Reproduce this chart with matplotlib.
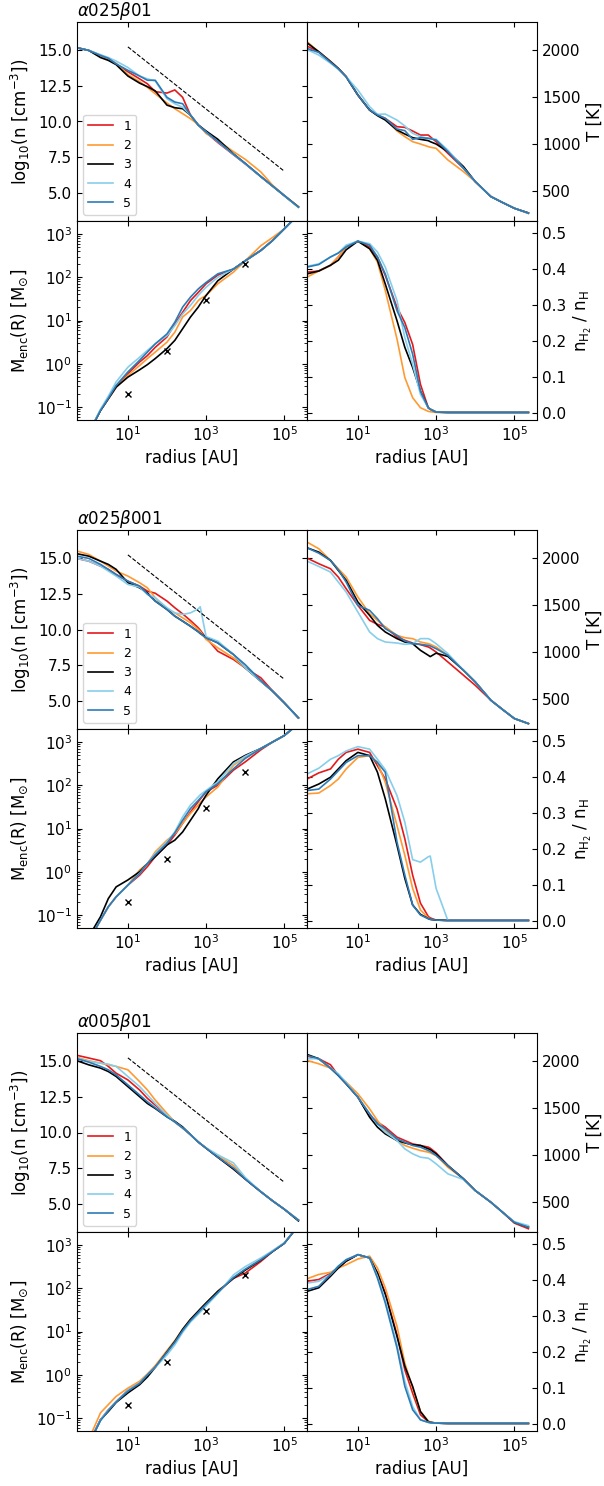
import numpy as np
import matplotlib
matplotlib.use("Agg")
import matplotlib.pyplot as plt

# radius grid (log10 AU), shared by every curve
logr = np.array([-0.3, 0.0, 0.3, 0.5, 0.7, 1.0, 1.3, 1.5, 1.7, 2.0, 2.2, 2.4,
                 2.6, 2.8, 2.85, 3.0, 3.3, 3.7, 4.0, 4.4, 4.7, 5.0, 5.36])
radius = 10 ** logr

labels = ["1", "2", "3", "4", "5"]
colors = ["#e41a1c", "#ff9a33", "k", "#87ceeb", "#2c7bb6"]
titles = [r"$\alpha025\beta01$", r"$\alpha025\beta001$", r"$\alpha005\beta01$"]

# reference slope line and reference masses
slope_r = [10, 1e5]
slope_n = [15.25, 6.5]
ref_r = [10, 100, 1000, 1e4]
ref_m = [0.2, 2, 30, 200]

# ---- alpha025 beta01 ----
n_a = [
    [15.19, 15.0, 14.65, 14.4, 14.05, 13.5, 13.0, 12.65, 12.1, 12.0, 12.22, 11.7, 10.45, 9.75, 9.62, 9.22, 8.52, 7.66, 7.02, 6.12, 5.46, 4.78, 4.0],
    [15.19, 15.0, 14.65, 14.4, 14.1, 13.3, 12.8, 12.4, 11.95, 11.3, 10.9, 10.55, 10.2, 9.78, 9.65, 9.15, 8.66, 7.88, 7.34, 6.45, 5.52, 4.8, 4.02],
    [15.19, 15.0, 14.5, 14.3, 14.0, 13.2, 12.7, 12.45, 12.15, 11.15, 10.97, 10.9, 10.45, 9.75, 9.65, 9.33, 8.75, 7.72, 7.05, 6.12, 5.45, 4.78, 3.98],
    [15.19, 15.0, 14.7, 14.5, 14.25, 13.8, 13.2, 13.0, 12.85, 11.6, 11.25, 11.0, 10.45, 9.75, 9.62, 9.25, 8.58, 7.68, 7.03, 6.12, 5.45, 4.78, 3.95],
    [15.19, 15.0, 14.65, 14.45, 14.05, 13.6, 13.2, 12.9, 12.9, 11.7, 11.37, 11.25, 10.45, 9.75, 9.62, 9.25, 8.6, 7.7, 7.05, 6.13, 5.46, 4.79, 3.98],
]
T_a = [
    [2043, 1982, 1880, 1804, 1716, 1520, 1360, 1307, 1271, 1182, 1175, 1136, 1093, 1093, 1075, 1022, 898, 738, 596, 436, 372, 311, 258],
    [2089, 1982, 1876, 1804, 1716, 1520, 1360, 1307, 1265, 1136, 1076, 1022, 997, 969, 963, 951, 827, 702, 596, 436, 372, 311, 258],
    [2078, 1982, 1876, 1804, 1716, 1520, 1360, 1300, 1253, 1147, 1104, 1065, 1047, 1033, 1022, 997, 916, 756, 596, 436, 372, 311, 262],
    [2007, 1947, 1860, 1795, 1716, 1573, 1396, 1314, 1317, 1253, 1190, 1111, 1076, 1058, 1055, 1047, 933, 738, 596, 436, 372, 311, 258],
    [2018, 1975, 1870, 1800, 1716, 1520, 1360, 1307, 1271, 1157, 1140, 1047, 1065, 1058, 1054, 1040, 916, 738, 596, 436, 372, 311, 258],
]
logM_a = [
    [-2.6, -1.6, -1.08, -0.81, -0.54, -0.23, 0.04, 0.19, 0.38, 0.62, 0.92, 1.19, 1.46, 1.65, 1.7, 1.85, 2.05, 2.19, 2.38, 2.62, 2.85, 3.12, 3.45],
    [-2.6, -1.6, -1.08, -0.81, -0.54, -0.27, -0.04, 0.12, 0.27, 0.5, 0.73, 1.08, 1.23, 1.46, 1.5, 1.58, 1.85, 2.12, 2.38, 2.73, 2.92, 3.12, 3.45],
    [-2.6, -1.6, -1.08, -0.81, -0.54, -0.31, -0.14, -0.02, 0.12, 0.35, 0.54, 0.81, 1.08, 1.31, 1.38, 1.58, 1.92, 2.19, 2.38, 2.62, 2.85, 3.12, 3.45],
    [-2.6, -1.6, -1.05, -0.75, -0.42, -0.08, 0.15, 0.31, 0.46, 0.65, 0.88, 1.15, 1.35, 1.58, 1.63, 1.77, 2.0, 2.19, 2.38, 2.62, 2.85, 3.12, 3.45],
    [-2.6, -1.6, -1.08, -0.8, -0.5, -0.19, 0.08, 0.27, 0.46, 0.69, 0.96, 1.31, 1.54, 1.73, 1.77, 1.88, 2.08, 2.19, 2.38, 2.62, 2.85, 3.12, 3.45],
]
fH2_a = [
    [0.391, 0.394, 0.41, 0.433, 0.461, 0.477, 0.461, 0.433, 0.382, 0.293, 0.251, 0.19, 0.079, 0.014, 0.01, 0.002, 0.001, 0.001, 0.001, 0.001, 0.001, 0.001, 0.001],
    [0.377, 0.394, 0.41, 0.433, 0.461, 0.477, 0.456, 0.419, 0.34, 0.205, 0.098, 0.042, 0.014, 0.004, 0.003, 0.001, 0.001, 0.001, 0.001, 0.001, 0.001, 0.001, 0.001],
    [0.386, 0.394, 0.41, 0.424, 0.453, 0.477, 0.456, 0.424, 0.358, 0.256, 0.182, 0.126, 0.06, 0.014, 0.01, 0.002, 0.001, 0.001, 0.001, 0.001, 0.001, 0.001, 0.001],
    [0.407, 0.414, 0.433, 0.444, 0.466, 0.477, 0.47, 0.447, 0.405, 0.312, 0.209, 0.135, 0.051, 0.014, 0.01, 0.002, 0.001, 0.001, 0.001, 0.001, 0.001, 0.001, 0.001],
    [0.405, 0.412, 0.433, 0.444, 0.461, 0.477, 0.466, 0.433, 0.386, 0.284, 0.237, 0.163, 0.06, 0.014, 0.01, 0.002, 0.001, 0.001, 0.001, 0.001, 0.001, 0.001, 0.001],
]

# ---- alpha025 beta001 ----
n_b = [
    [15.0, 14.81, 14.46, 14.23, 13.87, 13.4, 13.05, 12.7, 12.55, 12.0, 11.53, 11.1, 10.63, 10.12, 9.95, 9.41, 8.47, 7.89, 7.3, 6.6, 5.68, 4.84, 3.78],
    [15.52, 15.28, 14.81, 14.46, 14.11, 13.76, 13.29, 12.93, 12.23, 11.41, 11.17, 10.82, 10.47, 10.0, 9.85, 9.3, 8.71, 8.0, 7.3, 6.36, 5.66, 4.84, 3.78],
    [15.33, 15.16, 14.81, 14.58, 14.23, 13.29, 12.93, 12.58, 12.0, 11.41, 10.94, 10.59, 10.23, 9.84, 9.72, 9.45, 9.06, 8.24, 7.3, 6.36, 5.66, 4.84, 3.78],
    [15.0, 14.81, 14.46, 14.11, 13.76, 13.17, 12.98, 12.46, 12.23, 11.53, 11.17, 11.06, 11.17, 11.45, 11.6, 9.5, 9.18, 8.24, 7.3, 6.36, 5.66, 4.84, 3.78],
    [15.16, 15.0, 14.58, 14.23, 13.87, 13.4, 13.05, 12.51, 12.0, 11.41, 10.94, 10.59, 10.23, 9.84, 9.72, 9.41, 9.06, 8.24, 7.53, 6.4, 5.66, 4.84, 3.78],
]
T_b = [
    [2000, 1940, 1886, 1797, 1673, 1495, 1335, 1293, 1264, 1157, 1122, 1093, 1076, 1051, 1040, 997, 891, 749, 642, 482, 383, 287, 233],
    [2171, 2100, 1975, 1886, 1797, 1584, 1406, 1335, 1264, 1175, 1150, 1140, 1104, 1086, 1080, 1051, 962, 802, 678, 482, 383, 287, 230],
    [2110, 2064, 1975, 1868, 1762, 1531, 1388, 1282, 1211, 1140, 1104, 1086, 1015, 962, 948, 985, 950, 802, 678, 482, 383, 287, 233],
    [1968, 1911, 1851, 1744, 1637, 1424, 1211, 1140, 1104, 1093, 1079, 1086, 1140, 1140, 1130, 1086, 980, 802, 678, 482, 383, 287, 233],
    [2110, 2053, 1975, 1875, 1744, 1495, 1442, 1353, 1246, 1175, 1115, 1086, 1079, 1068, 1062, 1033, 962, 802, 678, 482, 383, 287, 233],
]
logM_b = [
    [-2.6, -1.6, -1.12, -0.81, -0.58, -0.31, -0.08, 0.12, 0.35, 0.62, 0.85, 1.12, 1.38, 1.62, 1.68, 1.85, 2.0, 2.35, 2.54, 2.82, 3.0, 3.15, 3.42],
    [-2.6, -1.6, -1.12, -0.81, -0.58, -0.31, 0.04, 0.19, 0.46, 0.73, 0.88, 1.12, 1.35, 1.54, 1.6, 1.73, 1.96, 2.46, 2.65, 2.85, 3.0, 3.15, 3.42],
    [-2.6, -1.5, -1.04, -0.62, -0.35, -0.19, 0.0, 0.19, 0.35, 0.62, 0.73, 0.92, 1.19, 1.46, 1.55, 1.77, 2.15, 2.54, 2.69, 2.85, 3.0, 3.15, 3.42],
    [-2.6, -1.6, -1.12, -0.81, -0.58, -0.31, -0.04, 0.19, 0.42, 0.69, 0.92, 1.27, 1.54, 1.73, 1.78, 1.88, 2.08, 2.5, 2.67, 2.85, 3.0, 3.15, 3.42],
    [-2.6, -1.6, -1.12, -0.81, -0.58, -0.31, -0.04, 0.19, 0.39, 0.66, 0.9, 1.19, 1.46, 1.65, 1.7, 1.85, 2.04, 2.38, 2.62, 2.85, 3.0, 3.15, 3.42],
]
fH2_b = [
    [0.394, 0.411, 0.422, 0.449, 0.468, 0.477, 0.468, 0.431, 0.394, 0.311, 0.228, 0.127, 0.049, 0.012, 0.008, 0.002, 0.001, 0.001, 0.001, 0.001, 0.001, 0.001, 0.001],
    [0.353, 0.355, 0.376, 0.394, 0.422, 0.454, 0.459, 0.44, 0.385, 0.265, 0.182, 0.09, 0.03, 0.008, 0.005, 0.002, 0.001, 0.001, 0.001, 0.001, 0.001, 0.001, 0.001],
    [0.366, 0.38, 0.399, 0.422, 0.445, 0.468, 0.459, 0.413, 0.339, 0.21, 0.118, 0.044, 0.018, 0.006, 0.004, 0.002, 0.001, 0.001, 0.001, 0.001, 0.001, 0.001, 0.001],
    [0.408, 0.424, 0.449, 0.459, 0.472, 0.484, 0.477, 0.449, 0.42, 0.348, 0.274, 0.17, 0.163, 0.178, 0.18, 0.09, 0.001, 0.001, 0.001, 0.001, 0.001, 0.001, 0.001],
    [0.362, 0.366, 0.394, 0.417, 0.44, 0.459, 0.459, 0.44, 0.413, 0.219, 0.127, 0.044, 0.016, 0.006, 0.004, 0.002, 0.001, 0.001, 0.001, 0.001, 0.001, 0.001, 0.001],
]

# ---- alpha005 beta01 ----
n_c = [
    [15.43, 15.24, 15.05, 14.65, 14.17, 13.7, 12.99, 12.4, 11.93, 11.22, 10.74, 10.32, 9.85, 9.33, 9.22, 8.9, 8.26, 7.43, 6.73, 5.83, 5.19, 4.6, 3.84],
    [15.28, 15.05, 14.88, 14.76, 14.65, 14.41, 13.58, 12.99, 12.28, 11.34, 10.74, 10.32, 9.85, 9.33, 9.22, 8.9, 8.38, 7.67, 6.78, 5.83, 5.19, 4.6, 3.84],
    [15.05, 14.76, 14.53, 14.29, 13.94, 13.23, 12.52, 12.04, 11.69, 11.1, 10.79, 10.39, 9.85, 9.33, 9.22, 8.9, 8.26, 7.43, 6.73, 5.83, 5.19, 4.6, 3.78],
    [15.24, 15.0, 14.88, 14.81, 14.65, 13.94, 13.23, 12.64, 12.04, 11.22, 10.74, 10.32, 9.85, 9.33, 9.22, 8.92, 8.43, 7.86, 6.84, 5.83, 5.19, 4.6, 3.84],
    [15.19, 14.95, 14.65, 14.41, 14.05, 13.35, 12.64, 12.16, 11.74, 11.1, 10.74, 10.32, 9.85, 9.33, 9.22, 8.9, 8.26, 7.5, 6.73, 5.83, 5.19, 4.6, 3.84],
]
T_c = [
    [2053, 2025, 1961, 1847, 1758, 1615, 1419, 1348, 1295, 1188, 1152, 1116, 1099, 1081, 1070, 1020, 885, 742, 618, 493, 386, 270, 210],
    [2007, 1971, 1925, 1847, 1776, 1651, 1490, 1366, 1259, 1152, 1099, 1070, 1045, 1027, 1020, 992, 867, 742, 618, 493, 386, 279, 226],
    [2071, 2025, 1925, 1847, 1758, 1615, 1401, 1295, 1223, 1152, 1127, 1106, 1099, 1063, 1055, 1010, 885, 742, 618, 493, 386, 279, 226],
    [2025, 2025, 1925, 1865, 1770, 1615, 1437, 1330, 1241, 1152, 1063, 1010, 974, 963, 950, 903, 796, 735, 618, 493, 386, 285, 243],
    [2061, 2025, 1925, 1847, 1758, 1615, 1437, 1330, 1277, 1170, 1134, 1099, 1081, 1045, 1035, 992, 885, 742, 618, 493, 386, 279, 226],
]
logM_c = [
    [-2.6, -1.6, -1.04, -0.81, -0.62, -0.36, -0.19, 0.0, 0.19, 0.54, 0.77, 1.04, 1.27, 1.46, 1.5, 1.65, 1.92, 2.23, 2.35, 2.62, 2.85, 3.04, 3.45],
    [-2.5, -1.5, -0.88, -0.69, -0.5, -0.31, -0.15, 0.02, 0.21, 0.56, 0.79, 1.05, 1.28, 1.47, 1.52, 1.66, 1.93, 2.24, 2.43, 2.66, 2.86, 3.05, 3.45],
    [-2.6, -1.6, -1.04, -0.85, -0.64, -0.42, -0.23, -0.05, 0.17, 0.53, 0.77, 1.05, 1.28, 1.47, 1.52, 1.66, 1.93, 2.23, 2.42, 2.65, 2.85, 3.04, 3.45],
    [-2.6, -1.6, -1.04, -0.81, -0.62, -0.36, -0.19, 0.0, 0.17, 0.46, 0.69, 0.98, 1.22, 1.4, 1.45, 1.59, 1.88, 2.31, 2.5, 2.7, 2.87, 3.05, 3.45],
    [-2.6, -1.6, -1.06, -0.83, -0.63, -0.38, -0.2, 0.0, 0.18, 0.52, 0.75, 1.02, 1.25, 1.44, 1.49, 1.63, 1.9, 2.25, 2.44, 2.66, 2.85, 3.04, 3.45],
]
fH2_c = [
    [0.396, 0.401, 0.418, 0.433, 0.452, 0.47, 0.461, 0.419, 0.364, 0.248, 0.15, 0.085, 0.025, 0.006, 0.004, 0.002, 0.001, 0.001, 0.001, 0.001, 0.001, 0.001, 0.001],
    [0.403, 0.415, 0.421, 0.433, 0.442, 0.458, 0.466, 0.433, 0.378, 0.271, 0.169, 0.099, 0.034, 0.008, 0.005, 0.002, 0.001, 0.001, 0.001, 0.001, 0.001, 0.001, 0.001],
    [0.368, 0.378, 0.41, 0.433, 0.452, 0.47, 0.461, 0.419, 0.359, 0.243, 0.16, 0.104, 0.034, 0.006, 0.004, 0.002, 0.001, 0.001, 0.001, 0.001, 0.001, 0.001, 0.001],
    [0.391, 0.396, 0.415, 0.438, 0.456, 0.47, 0.461, 0.41, 0.345, 0.22, 0.118, 0.048, 0.011, 0.004, 0.003, 0.002, 0.001, 0.001, 0.001, 0.001, 0.001, 0.001, 0.001],
    [0.373, 0.382, 0.415, 0.438, 0.456, 0.47, 0.461, 0.405, 0.336, 0.211, 0.104, 0.039, 0.011, 0.004, 0.003, 0.002, 0.001, 0.001, 0.001, 0.001, 0.001, 0.001, 0.001],
]

blocks = [(n_a, T_a, logM_a, fH2_a), (n_b, T_b, logM_b, fH2_b), (n_c, T_c, logM_c, fH2_c)]

fig = plt.figure(figsize=(6.04, 14.86), dpi=100)
W, H = 604.0, 1486.0
x_left, x_right, pw = 77, 307, 230
block_tops = [22, 530, 1033]
ph = 199

def style(ax, right=False):
    ax.set_xscale("log")
    ax.set_xlim(0.5, 3.8e5)
    ax.tick_params(which="both", direction="in", top=True, right=True,
                   left=True, bottom=True, labelsize=11)
    if right:
        ax.tick_params(which="both", labelleft=False, labelright=True)
        ax.yaxis.set_label_position("right")

for b, (n_s, T_s, M_s, f_s) in enumerate(blocks):
    top = block_tops[b]
    y_top = 1 - (top + ph) / H
    y_bot = 1 - (top + 2 * ph) / H
    ax_n = fig.add_axes([x_left / W, y_top, pw / W, ph / H])
    ax_T = fig.add_axes([x_right / W, y_top, pw / W, ph / H])
    ax_M = fig.add_axes([x_left / W, y_bot, pw / W, ph / H])
    ax_f = fig.add_axes([x_right / W, y_bot, pw / W, ph / H])

    for i in range(5):
        ax_n.plot(radius, n_s[i], color=colors[i], lw=1.2, label=labels[i])
        ax_T.plot(radius, T_s[i], color=colors[i], lw=1.2)
        ax_M.plot(radius, 10 ** np.array(M_s[i]), color=colors[i], lw=1.2)
        ax_f.plot(radius, f_s[i], color=colors[i], lw=1.2)

    ax_n.plot(slope_r, slope_n, "k--", lw=0.8)
    ax_M.plot(ref_r, ref_m, "kx", ms=4, mew=1)

    for ax in (ax_n, ax_M):
        style(ax)
    for ax in (ax_T, ax_f):
        style(ax, right=True)

    ax_n.set_ylim(3.0, 17.0)
    ax_n.set_yticks([5, 7.5, 10, 12.5, 15])
    ax_T.set_ylim(175, 2300)
    ax_T.set_yticks([500, 1000, 1500, 2000])
    ax_M.set_yscale("log")
    ax_M.set_ylim(0.05, 2000)
    ax_f.set_ylim(-0.02, 0.533)

    for ax in (ax_n, ax_T):
        ax.tick_params(which="both", labelbottom=False)

    ax_n.set_ylabel(r"log$_{10}$(n [cm$^{-3}$])", fontsize=12)
    ax_T.set_ylabel("T [K]", fontsize=12)
    ax_M.set_ylabel(r"M$_{\rm enc}$(R) [M$_{\odot}$]", fontsize=12)
    ax_f.set_ylabel(r"n$_{\rm H_2}$ / n$_{\rm H}$", fontsize=12)
    ax_M.set_xlabel("radius [AU]", fontsize=12)
    ax_f.set_xlabel("radius [AU]", fontsize=12)

    ax_n.set_title(titles[b], loc="left", fontsize=12, pad=4)
    ax_n.legend(loc="lower left", fontsize=9)

fig.savefig("out.png", dpi=100)
